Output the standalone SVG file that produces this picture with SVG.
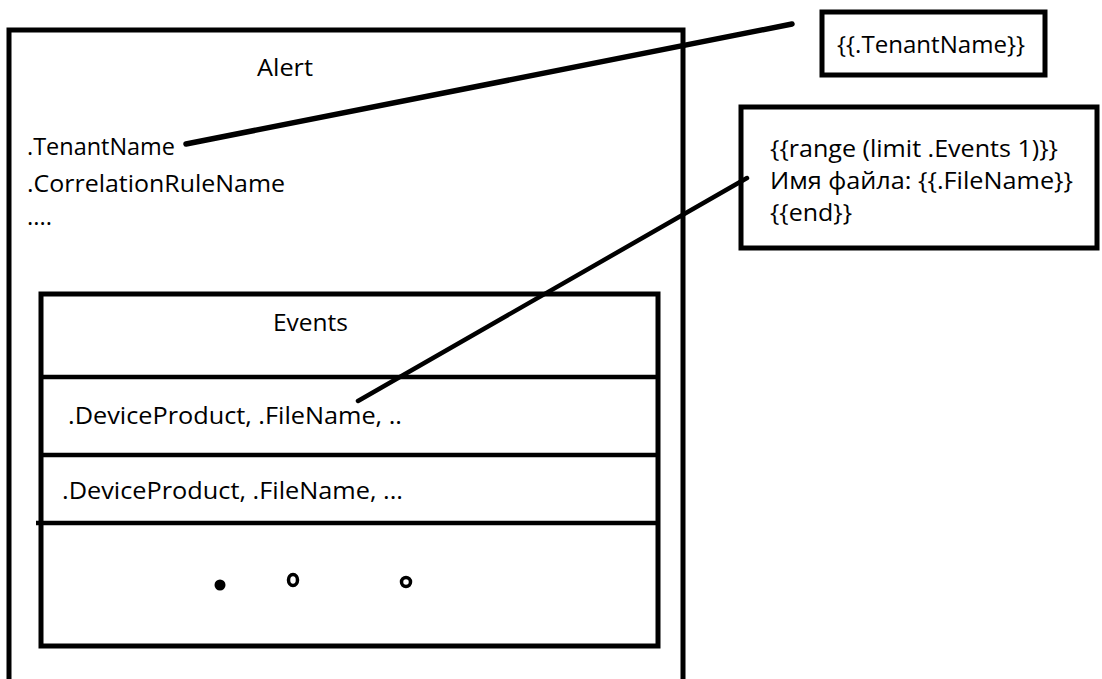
<svg xmlns="http://www.w3.org/2000/svg" width="1102" height="679" viewBox="0 0 1102 679">
<style>
.box{fill:none;stroke:#000;stroke-width:5}
.div{stroke:#000;stroke-width:4.5}
.t{font-family:"Open Sans","Liberation Sans",sans-serif;font-size:24.5px;fill:#000}
.con{stroke:#000;stroke-width:5.5;stroke-linecap:round;fill:none}
</style>
<rect width="1102" height="679" fill="#fff"/>
<g id="alert">
<path class="box" d="M9,682 V30 H683 V682"/>
<text class="t" x="257" y="76" textLength="56" lengthAdjust="spacingAndGlyphs">Alert</text>
<text class="t" x="27" y="155" textLength="148" lengthAdjust="spacingAndGlyphs">.TenantName</text>
<text class="t" x="27" y="192" textLength="258" lengthAdjust="spacingAndGlyphs">.CorrelationRuleName</text>
<text class="t" x="27" y="225" textLength="25" lengthAdjust="spacingAndGlyphs">....</text>
</g>
<g id="events">
<rect class="box" x="41" y="294" width="617" height="352"/>
<text class="t" x="273" y="331" textLength="75" lengthAdjust="spacingAndGlyphs">Events</text>
<line class="div" x1="41" y1="377" x2="658" y2="377"/>
<text class="t" x="68" y="424" textLength="334" lengthAdjust="spacingAndGlyphs">.DeviceProduct, .FileName, ..</text>
<line class="div" x1="41" y1="455" x2="658" y2="455"/>
<text class="t" x="62" y="499" textLength="341" lengthAdjust="spacingAndGlyphs">.DeviceProduct, .FileName, ...</text>
<line class="div" x1="36" y1="523" x2="658" y2="523"/>
<circle cx="220" cy="585" r="5.5" fill="#000"/>
<ellipse cx="293" cy="580" rx="4.5" ry="5.5" fill="#fff" stroke="#000" stroke-width="3.5"/>
<circle cx="406" cy="582" r="4.5" fill="#fff" stroke="#000" stroke-width="3.5"/>
</g>
<g id="tenant-template">
<rect class="box" x="822" y="12" width="223" height="63"/>
<text class="t" x="837" y="53" textLength="188" lengthAdjust="spacingAndGlyphs">{{.TenantName}}</text>
</g>
<g id="range-template">
<rect class="box" x="741" y="107" width="356" height="141"/>
<text class="t" x="770" y="157" textLength="288" lengthAdjust="spacingAndGlyphs">{{range (limit .Events 1)}}</text>
<text class="t" x="770" y="189" textLength="303" lengthAdjust="spacingAndGlyphs">Имя файла: {{.FileName}}</text>
<text class="t" x="770" y="221" textLength="82" lengthAdjust="spacingAndGlyphs">{{end}}</text>
</g>
<g id="connectors">
<line class="con" x1="186" y1="144" x2="792" y2="24"/>
<line class="con" x1="358" y1="401" x2="747" y2="178" style="stroke-width:4.5"/>
</g>
</svg>
